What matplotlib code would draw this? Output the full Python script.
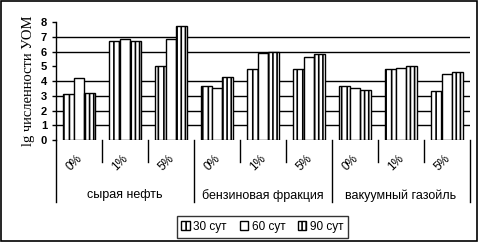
import numpy as np
import matplotlib.pyplot as plt
from matplotlib.patches import Rectangle

# data
groups = ["сырая нефть", "бензиновая фракция", "вакуумный газойль"]
doses = ["0%", "1%", "5%"]
series = ["30 сут", "60 сут", "90 сут"]
s30 = [3.1, 6.7, 5.0, 3.65, 4.8, 4.8, 3.65, 4.8, 3.3]
s60 = [4.2, 6.85, 6.85, 3.5, 5.9, 5.6, 3.5, 4.85, 4.45]
s90 = [3.2, 6.7, 7.7, 4.3, 5.95, 5.8, 3.4, 5.0, 4.6]
yticks = [0, 1, 2, 3, 4, 5, 6, 7, 8]
gridvals = [1, 2, 3, 4, 6, 7]

plt.rcParams['hatch.linewidth'] = 1.2

fig = plt.figure(figsize=(4.78, 2.42), dpi=100)
ax = fig.add_axes([0.117, 0.4215, 0.866, 0.4875])

x = np.arange(len(s30))
w = 0.23
hatches = ["|||", "", "||||"]
for k, vals in enumerate([s30, s60, s90]):
    ax.bar(x + (k - 1) * w, vals, w, color="white", edgecolor="black",
           linewidth=1, hatch=hatches[k], label=series[k], zorder=3)

for g in gridvals:
    ax.axhline(g, color="black", linewidth=1, zorder=1)

ax.set_xlim(-0.5, len(s30) - 0.5)
ax.set_ylim(0, 8)
ax.set_yticks(yticks)
ax.set_yticklabels([str(t) for t in yticks], fontsize=8, fontweight="bold",
                   family="Liberation Sans")
ax.tick_params(axis="y", length=3, width=1)
ax.set_xticks([])
for s in ["top", "right", "bottom"]:
    ax.spines[s].set_visible(False)
ax.spines["left"].set_linewidth(1)

# separators under the axis
trans = ax.get_xaxis_transform()
for i in range(len(s30) + 1):
    pos = i - 0.5
    low = -0.525 if i % 3 == 0 else -0.186
    ax.plot([pos, pos], [0, low], color="black", linewidth=1,
            transform=trans, clip_on=False)

for i in range(len(s30)):
    ax.text(i - 0.1, -0.19, doses[i % 3], transform=trans, rotation=45,
            ha="center", va="center", fontsize=8.5, family="Liberation Sans")

for j, g in enumerate(groups):
    ax.text(j * 3 + 1, -0.47, g, transform=trans, ha="center", va="center",
            fontsize=9, family="Liberation Sans")

ax.set_ylabel("lg численности УОМ", family="Liberation Serif", fontsize=10.5,
              labelpad=4)

leg = fig.legend(loc="center", bbox_to_anchor=(0.549, 0.062), ncol=3,
                 frameon=True, fancybox=False, edgecolor="black",
                 prop={"family": "Liberation Sans", "size": 8.5},
                 handlelength=0.7, handleheight=0.8, handletextpad=0.3,
                 columnspacing=1.1, borderpad=0.4)
leg.get_frame().set_linewidth(1)

fig.patches.append(Rectangle((0.002, 0.004), 0.996, 0.992, transform=fig.transFigure,
                             fill=False, edgecolor="black", linewidth=1.2))

fig.savefig("out.png", dpi=100)
